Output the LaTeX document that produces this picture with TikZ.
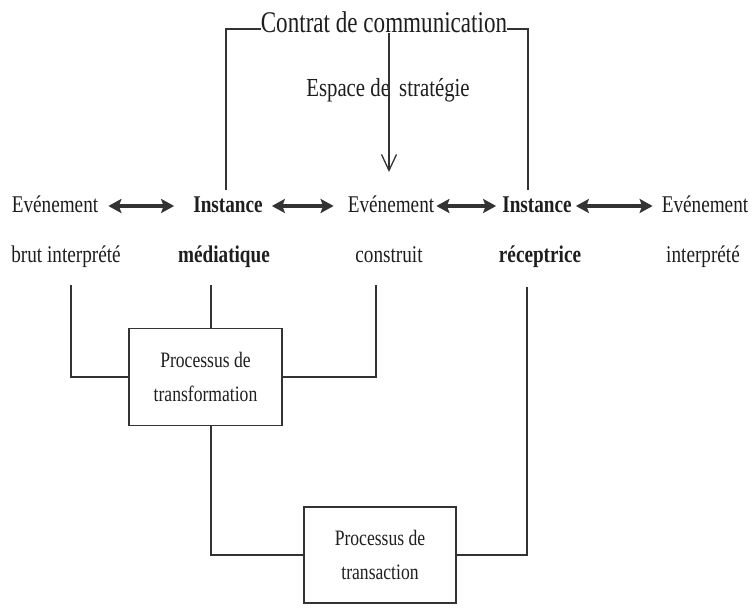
\documentclass[tikz,border=0pt]{standalone}
\usepackage{fontspec}
\setmainfont{Liberation Serif}[FakeStretch=0.8]
\newfontfamily\titlefont{Liberation Serif}[FakeStretch=0.77]
\usetikzlibrary{arrows.meta}
\definecolor{ink}{HTML}{1E1E1E}
\definecolor{lin}{HTML}{333333}
\begin{document}
\begin{tikzpicture}[x=1pt,y=-1pt,
  lbl/.style={inner sep=0pt,text=ink,font=\fontsize{24}{28}\selectfont,text height=16pt,text depth=4pt,anchor=base},
  blbl/.style={lbl,font=\fontsize{24}{28}\selectfont\bfseries},
  dbl/.style={line width=3.2pt,draw=lin,{Stealth[length=13pt,width=14pt,inset=2.5pt]}-{Stealth[length=13pt,width=14pt,inset=2.5pt]}},
  conn/.style={line width=1.3pt,draw=lin},
  procbox/.style={draw=lin,line width=1.8pt,minimum width=153pt,minimum height=97pt,inner sep=0pt,align=center,text=ink,font=\fontsize{22}{34}\selectfont}
]
\useasboundingbox (0,0) rectangle (753,615);
% title and strategy
\node[inner sep=0pt,anchor=base,text=ink,font=\titlefont\fontsize{30}{34}\selectfont] (title) at (384,33) {Contrat de communication};
\node[inner sep=0pt,anchor=base,text=ink,font=\fontsize{26}{30}\selectfont] (esp) at (388,97) {Espace de\hspace{4pt} stratégie};
\coordinate (tl) at (226,190);
\coordinate (tr) at (528,190);
\coordinate (tlt) at (226,29);
\coordinate (trt) at (528,29);
\coordinate (stA) at (389,33);
\coordinate (stB) at (389,172);
\draw[conn] (tl) -- (tlt) -- (tlt -| title.west);
\draw[conn] (trt -| title.east) -- (trt) -- (tr);
\draw[conn,-{Straight Barb[length=16pt,width=15pt,line width=1.3pt]}] (stA) -- (stB);
% row 1
\node[lbl]  (e1) at (55,212)  {Evénement};
\node[blbl] (i1) at (228,212) {Instance};
\node[lbl]  (e2) at (391,212) {Evénement};
\node[blbl] (i2) at (537,212) {Instance};
\node[lbl]  (e3) at (705,212) {Evénement};
\draw[dbl,shorten <=10pt,shorten >=19pt] (e1.east) -- (i1.west);
\draw[dbl,shorten <=9pt,shorten >=14pt] (i1.east) -- (e2.west);
\draw[dbl,shorten <=2pt,shorten >=6pt] (e2.east) -- (i2.west);
\draw[dbl,shorten <=4pt,shorten >=9pt] (i2.east) -- (e3.west);
% row 2
\node[lbl]  (r1) at (66,262)  {brut interprété};
\node[blbl] (r2) at (224,262) {médiatique};
\node[lbl]  (r3) at (389,262) {construit};
\node[blbl] (r4) at (540,262) {réceptrice};
\node[lbl]  (r5) at (703,262) {interprété};
% boxes
\node[procbox] (p1) at (205.5,377) {Processus de\\transformation};
\node[procbox,minimum width=152pt,minimum height=96pt] (p2) at (380,555) {Processus de\\transaction};
% connectors
\coordinate (c1) at (71,285);
\coordinate (c2) at (211,285);
\coordinate (c3) at (376,285);
\coordinate (c4) at (527,287);
\draw[conn] (c1) |- (p1.west);
\draw[conn] (c2) -- (c2 |- p1.north);
\draw[conn] (c3) |- (p1.east);
\draw[conn] (c2 |- p1.south) |- (p2.west);
\draw[conn] (c4) |- (p2.east);
\end{tikzpicture}
\end{document}
